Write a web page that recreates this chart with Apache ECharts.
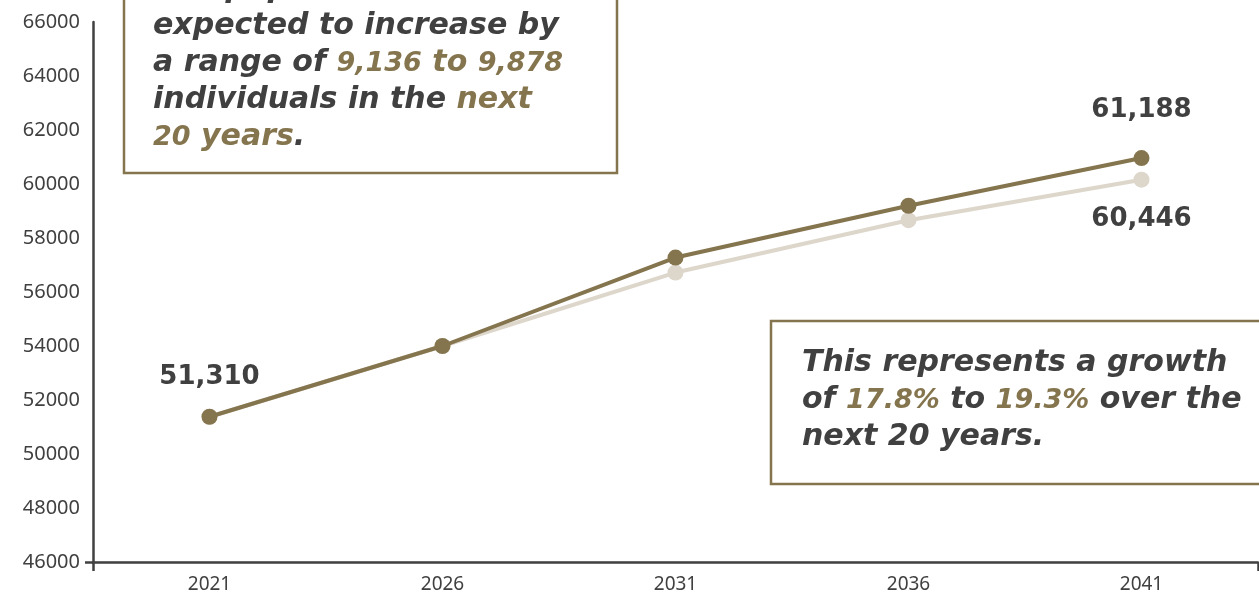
<!DOCTYPE html>
<html>
<head>
<meta charset="utf-8">
<script src="https://cdn.jsdelivr.net/npm/echarts@6/dist/echarts.min.js"></script>
<style>
html,body{margin:0;padding:0;background:#fff;}
#chart{width:1259px;height:596px;}
</style>
</head>
<body>
<div id="chart"></div>
<script>
// ---- data ----
const categories = ['2021', '2026', '2031', '2036', '2041'];
const highValues = [51380, 54000, 57275, 59195, 60960];
const lowValues  = [51380, 54000, 56720, 58660, 60160];
const highLabels = ['51,310', '', '', '', '61,188'];
const lowLabels  = ['', '', '', '', '60,446'];
const yMin = 46000, yMax = 66000, yInterval = 2000;

const DARK = '#404040';
const BROWN = '#85754E';
const LIGHT = '#DDD6CB';

const labelFont = { fontFamily: 'DejaVu Sans', fontWeight: 'bold', fontSize: 26, color: DARK };

function buildData(values, labels, pos, distances) {
  return values.map((v, i) => {
    if (!labels[i]) return v;
    return {
      value: v,
      label: Object.assign({ show: true, position: pos, distance: distances[i], formatter: labels[i] }, labelFont)
    };
  });
}

const baseRich = { fontFamily: 'DejaVu Sans', fontWeight: 'bold', fontStyle: 'italic', fontSize: 30, lineHeight: 37 };
const rich = {
  d: Object.assign({ fill: DARK }, baseRich),
  h: Object.assign({ fill: BROWN }, baseRich),
  n: Object.assign({}, baseRich, { fill: BROWN, fontSize: 27 })
};

const chart = echarts.init(document.getElementById('chart'));
chart.setOption({
  animation: false,
  backgroundColor: '#fff',
  grid: { left: 93, right: 1, top: 22, bottom: 34 },
  xAxis: {
    type: 'category',
    data: categories,
    boundaryGap: true,
    axisLine: { show: true, lineStyle: { color: DARK, width: 2.5 } },
    axisTick: { show: true, length: 9, interval: (idx) => idx === 0, lineStyle: { color: DARK, width: 2.5 } },
    axisLabel: { color: DARK, fontFamily: 'Noto Sans', fontSize: 19, margin: 13 },
    splitLine: { show: false }
  },
  yAxis: {
    type: 'value',
    min: yMin, max: yMax, interval: yInterval,
    axisLine: { show: true, onZero: false, lineStyle: { color: DARK, width: 2.5 } },
    axisTick: { show: true, length: 8, customValues: [yMin], lineStyle: { color: DARK, width: 2.5 } },
    axisLabel: { color: DARK, fontFamily: 'Noto Sans', fontSize: 20, margin: 13, formatter: (v) => String(v) },
    splitLine: { show: true, lineStyle: { color: '#e6e6e6', width: 1.5 } }
  },
  series: [
    {
      name: 'Low',
      type: 'line',
      data: buildData(lowValues, lowLabels, 'bottom', [0, 0, 0, 0, 19]),
      symbol: 'circle', symbolSize: 16,
      lineStyle: { color: LIGHT, width: 4 },
      itemStyle: { color: LIGHT },
      z: 2
    },
    {
      name: 'High',
      type: 'line',
      data: buildData(highValues, highLabels, 'top', [18, 0, 0, 0, 27]),
      symbol: 'circle', symbolSize: 16,
      lineStyle: { color: BROWN, width: 4 },
      itemStyle: { color: BROWN },
      z: 3
    }
  ],
  graphic: [
    {
      type: 'rect', z: 100,
      shape: { x: 124, y: -40, width: 493, height: 213 },
      style: { fill: '#fff', stroke: BROWN, lineWidth: 2.5 }
    },
    {
      type: 'text', z: 101,
      style: {
        x: 153, y: -29,
        text: '{d|The population is}\n{d|expected to increase by}\n{d|a range of }{n|9,136}{h| to }{n|9,878}\n{d|individuals in the }{h|next}\n{n|20}{h| years}{d|.}',
        rich: rich,
        verticalAlign: 'top', textVerticalAlign: 'top', align: 'left'
      }
    },
    {
      type: 'rect', z: 100,
      shape: { x: 771, y: 321, width: 600, height: 163 },
      style: { fill: '#fff', stroke: BROWN, lineWidth: 2.5 }
    },
    {
      type: 'text', z: 101,
      style: {
        x: 802, y: 345,
        text: '{d|This represents a growth}\n{d|of }{n|17.8%}{d| to }{n|19.3%}{d| over the}\n{d|next 20 years.}',
        rich: rich,
        verticalAlign: 'top', textVerticalAlign: 'top', align: 'left'
      }
    }
  ]
});
</script>
</body>
</html>
